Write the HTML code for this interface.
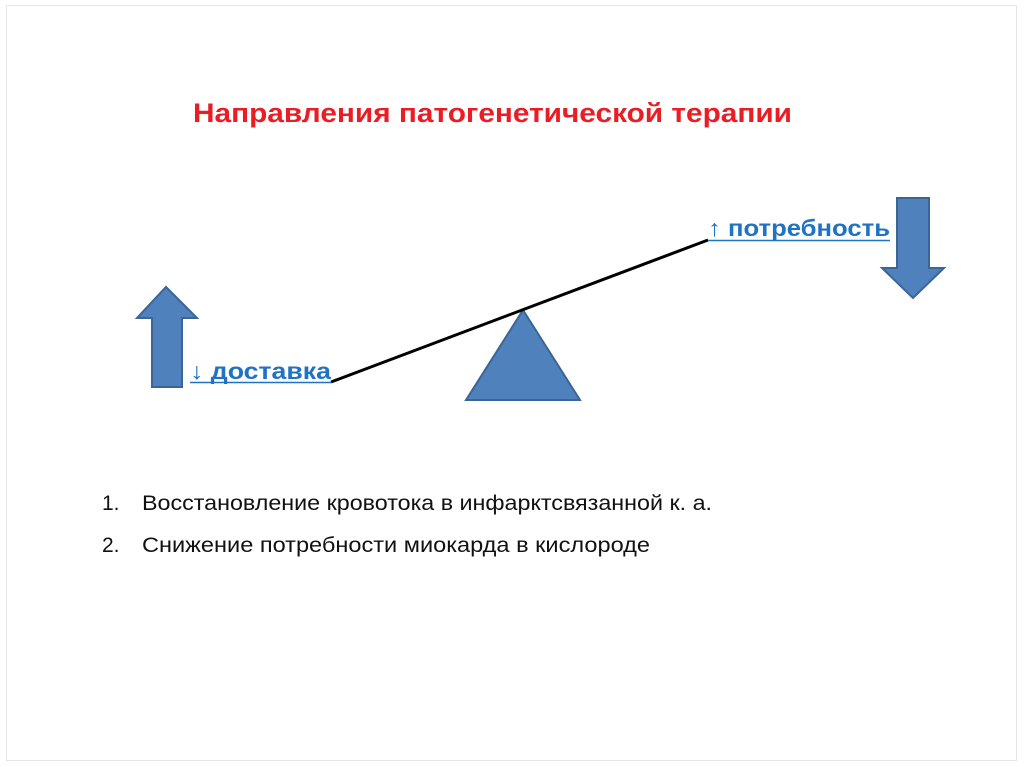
<!DOCTYPE html>
<html><head><meta charset="utf-8"><style>
html,body{margin:0;padding:0;background:#fff}
svg{display:block}
text{font-family:"Liberation Sans",sans-serif}
</style></head><body>
<svg width="1024" height="767" viewBox="0 0 1024 767">
<rect x="0" y="0" width="1024" height="767" fill="#fff"/>
<rect x="6.5" y="5.5" width="1010" height="755" fill="none" stroke="#e6e6e6" stroke-width="1"/>
<text x="193" y="122" font-size="27" font-weight="bold" fill="#ea1c24" textLength="599" lengthAdjust="spacingAndGlyphs">Направления патогенетической терапии</text>
<polygon points="166,287 197,318 182,318 182,387 152,387 152,318 137,318" fill="#4f81bd" stroke="#3a6595" stroke-width="2"/>
<polygon points="897,198 929,198 929,268 944,268 913,298 882,268 897,268" fill="#4f81bd" stroke="#3a6595" stroke-width="2"/>
<polygon points="523,310 580,400 466,400" fill="#4f81bd" stroke="#3a6595" stroke-width="2"/>
<line x1="331" y1="382" x2="708" y2="240" stroke="#000" stroke-width="3"/>
<text x="190" y="379" font-size="23" font-weight="bold" fill="#1f72c4" textLength="141" lengthAdjust="spacingAndGlyphs">↓ доставка</text>
<line x1="190" y1="382.5" x2="331" y2="382.5" stroke="#1f72c4" stroke-width="1.5"/>
<text x="708" y="236" font-size="23" font-weight="bold" fill="#1f72c4" textLength="182" lengthAdjust="spacingAndGlyphs">↑ потребность</text>
<line x1="708" y1="240.5" x2="890" y2="240.5" stroke="#1f72c4" stroke-width="1.5"/>
<text x="102" y="510" font-size="21" fill="#111">1.</text>
<text x="142" y="510" font-size="21" fill="#111" textLength="570" lengthAdjust="spacingAndGlyphs">Восстановление кровотока в инфарктсвязанной к. а.</text>
<text x="102" y="552" font-size="21" fill="#111">2.</text>
<text x="142" y="552" font-size="21" fill="#111" textLength="508" lengthAdjust="spacingAndGlyphs">Снижение потребности миокарда в кислороде</text>
</svg>
</body></html>
